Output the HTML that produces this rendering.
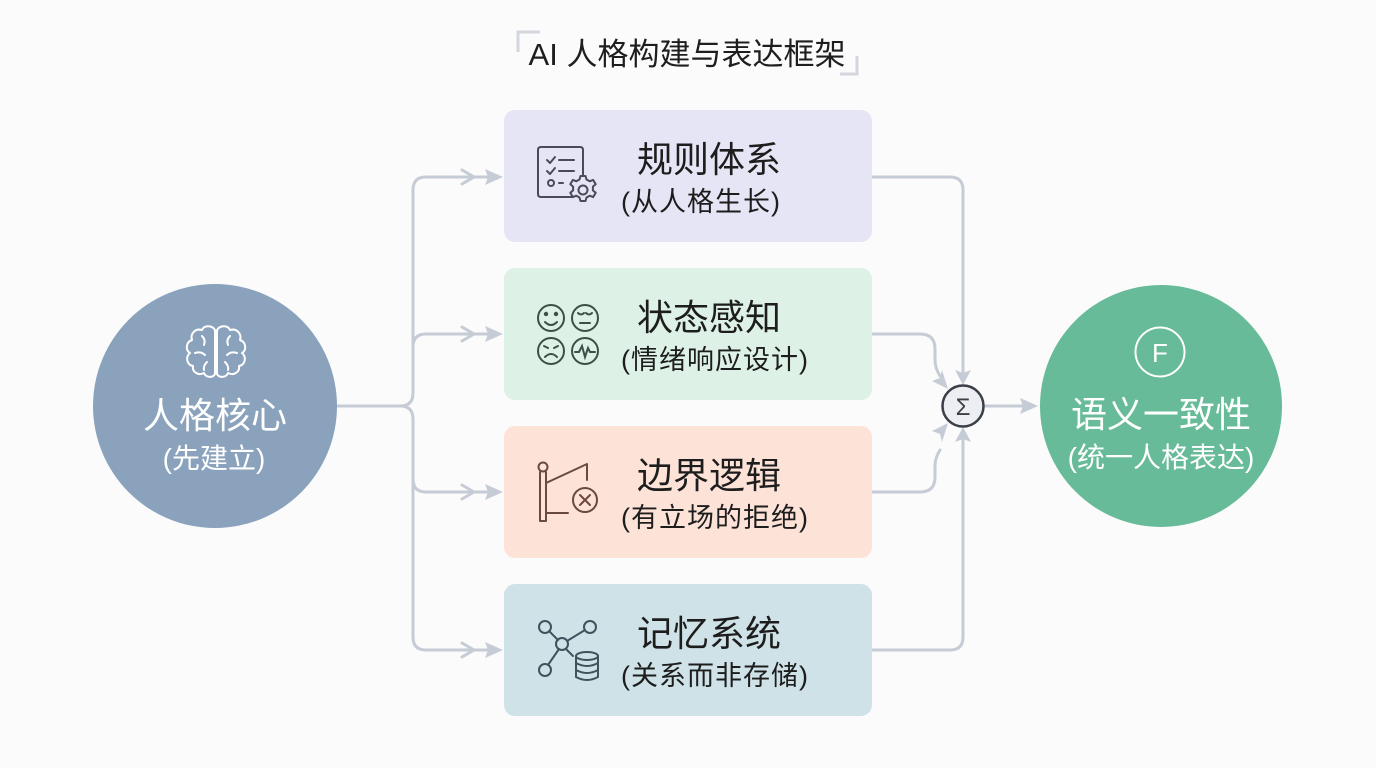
<!DOCTYPE html>
<html><head><meta charset="utf-8"><style>
html,body{margin:0;padding:0;background:#fbfbfc;}
svg{display:block;}
text{font-family:"Liberation Sans","Noto Sans CJK SC",sans-serif;}
</style></head><body>
<svg width="1376" height="768" viewBox="0 0 1376 768" xmlns="http://www.w3.org/2000/svg">
<rect width="1376" height="768" fill="#fbfbfc"/>

<!-- Title -->
<path d="M518,52 V32 H540" fill="none" stroke="#d3d7dd" stroke-width="3"/>
<path d="M857,56 V74 H840" fill="none" stroke="#d3d7dd" stroke-width="3"/>
<text x="687" y="65" text-anchor="middle" font-size="31" fill="#1e1e1e">AI 人格构建与表达框架</text>

<!-- Connectors left -->
<g fill="none" stroke="#c6ccd5" stroke-width="3" stroke-linecap="round">
<path d="M338,406 H400 Q413,406 413,393 V190 Q413,177 426,177 H488"/>
<path d="M400,406 Q413,406 413,419 V637 Q413,650 426,650 H488"/>
<path d="M413,347 Q413,334 426,334 H488"/>
<path d="M413,479 Q413,492 426,492 H488"/>
<path d="M462,170 L474,177 L462,184"/>
<path d="M462,327 L474,334 L462,341"/>
<path d="M462,485 L474,492 L462,499"/>
<path d="M462,643 L474,650 L462,657"/>
</g>
<g fill="#c6ccd5">
<path d="M503,177 L485,169 L488,177 L485,185 Z"/>
<path d="M503,334 L485,326 L488,334 L485,342 Z"/>
<path d="M503,492 L485,484 L488,492 L485,500 Z"/>
<path d="M503,650 L485,642 L488,650 L485,658 Z"/>
</g>

<!-- Connectors right -->
<g fill="none" stroke="#c6ccd5" stroke-width="3" stroke-linecap="round">
<path d="M872,177 H950 Q963,177 963,190 V372"/>
<path d="M872,650 H950 Q963,650 963,637 V440"/>
<path d="M872,334 H920 Q935,334 935,349 V360 Q935,368 940,376"/>
<path d="M872,492 H920 Q935,492 935,477 V466 Q935,458 940,450"/>
<path d="M985,406 H1022"/>
</g>
<g fill="#c6ccd5">
<path d="M963,385 L955,370 L963,373 L971,370 Z"/>
<path d="M963,427 L955,442 L963,439 L971,442 Z"/>
<path d="M948,389 L932,381 L940,378 L942,370 Z"/>
<path d="M948,423 L932,431 L940,434 L942,442 Z"/>
<path d="M1038,406 L1020,398 L1023,406 L1020,414 Z"/>
</g>

<!-- Sigma -->
<circle cx="963" cy="406" r="20.5" fill="#eceef3" stroke="#3b3f47" stroke-width="2.5"/>
<text x="963" y="415" text-anchor="middle" font-size="24" fill="#3b3f47" font-family="DejaVu Sans, sans-serif">Σ</text>

<!-- Boxes -->
<rect x="504" y="110" width="368" height="132" rx="11" fill="#e6e5f5"/>
<rect x="504" y="268" width="368" height="132" rx="11" fill="#ddf1e6"/>
<rect x="504" y="426" width="368" height="132" rx="11" fill="#fde2d8"/>
<rect x="504" y="584" width="368" height="132" rx="11" fill="#cfe2e8"/>

<g fill="#1d1d1d">
<text x="637" y="172" font-size="36">规则体系</text>
<text x="621" y="211" font-size="27" letter-spacing="1">(从人格生长)</text>
<text x="637" y="330" font-size="36">状态感知</text>
<text x="621" y="369" font-size="27" letter-spacing="1">(情绪响应设计)</text>
<text x="637" y="488" font-size="36">边界逻辑</text>
<text x="621" y="527" font-size="27" letter-spacing="1">(有立场的拒绝)</text>
<text x="637" y="646" font-size="36">记忆系统</text>
<text x="621" y="685" font-size="27" letter-spacing="1">(关系而非存储)</text>
</g>

<!-- Icon 1: checklist + gear -->
<g fill="none" stroke="#4a4b57" stroke-width="2" stroke-linecap="round" stroke-linejoin="round">
<path d="M572,197 H541 Q538,197 538,194 V150 Q538,147 541,147 H580 Q583,147 583,150 V176"/>
<path d="M547,160 L550,163 L555,157"/>
<path d="M559,160 H574"/>
<path d="M547,171 L550,174 L555,168"/>
<path d="M559,171 H574"/>
<circle cx="551" cy="183" r="3"/>
<path d="M559,183 H563"/>
<path d="M580.5,176 h5 l1,3.5 l3.2,1.8 l3.4,-1.4 l2.6,4.3 l-2.8,2.4 v3.8 l2.8,2.4 l-2.6,4.3 l-3.4,-1.4 l-3.2,1.8 l-1,3.5 h-5 l-1,-3.5 l-3.2,-1.8 l-3.4,1.4 l-2.6,-4.3 l2.8,-2.4 v-3.8 l-2.8,-2.4 l2.6,-4.3 l3.4,1.4 l3.2,-1.8 z"/>
<circle cx="583" cy="190" r="4.5"/>
</g>

<!-- Icon 2: faces -->
<g fill="none" stroke="#3e4f47" stroke-width="2" stroke-linecap="round">
<circle cx="551" cy="318" r="13"/>
<circle cx="546" cy="314" r="1.2" fill="#3e4f47"/>
<circle cx="556" cy="314" r="1.2" fill="#3e4f47"/>
<path d="M545,322 Q551,328 557,322"/>
<circle cx="585" cy="318" r="13"/>
<path d="M578,313 Q581,316 584,313 M586,313 Q589,316 592,313"/>
<path d="M580,323 H590"/>
<circle cx="551" cy="351" r="13"/>
<path d="M544,346 L548,348 M558,346 L554,348"/>
<path d="M545,357 Q551,351 557,357"/>
<circle cx="585" cy="351" r="13"/>
<path d="M575,352 H579 L582,346 L585,357 L588,348 L590,352 H595"/>
</g>

<!-- Icon 3: boundary -->
<g fill="none" stroke="#6a4a40" stroke-width="2" stroke-linecap="round" stroke-linejoin="round">
<circle cx="543" cy="467" r="4.5"/>
<path d="M540,472 V521 H546 V472"/>
<path d="M546,483 L587,464 V480"/>
<path d="M546,513 H568"/>
<circle cx="585" cy="500" r="12"/>
<path d="M580,495 L590,505 M590,495 L580,505"/>
</g>

<!-- Icon 4: graph + database -->
<g fill="none" stroke="#3f535d" stroke-width="2" stroke-linecap="round">
<circle cx="545" cy="627" r="6"/>
<circle cx="590" cy="627" r="6"/>
<circle cx="562" cy="644" r="6"/>
<circle cx="545" cy="670" r="6"/>
<path d="M549,631 L558,640 M567,641 L585,630 M559,649 L548,665 M566,649 L573,656"/>
<ellipse cx="587" cy="656" rx="11" ry="4"/>
<path d="M576,656 V677 Q587,683 598,677 V656"/>
<path d="M576,663 Q587,669 598,663 M576,670 Q587,676 598,670"/>
</g>

<!-- Left circle -->
<circle cx="215" cy="406" r="122" fill="#8aa2bc"/>
<g fill="none" stroke="#ffffff" stroke-width="2" stroke-linecap="round" stroke-linejoin="round">
<path d="M215,330 C212,325 204,325 202,330 C195,328 190,334 192,340 C186,342 185,350 190,353 C185,357 187,365 193,366 C192,372 198,376 204,373 C206,378 213,378 215,374 Z"/>
<path d="M217,330 C220,325 228,325 230,330 C237,328 242,334 240,340 C246,342 247,350 242,353 C247,357 245,365 239,366 C240,372 234,376 228,373 C226,378 219,378 217,374 Z"/>
<path d="M202,336 Q206,340 204,345 M195,353 Q201,351 205,355 M207,362 Q203,366 204,370"/>
<path d="M230,336 Q226,340 228,345 M237,353 Q231,351 227,355 M225,362 Q229,366 228,370"/>
</g>
<g fill="#ffffff" text-anchor="middle">
<text x="215" y="428" font-size="36">人格核心</text>
<text x="214" y="468" font-size="28">(先建立)</text>
</g>

<!-- Right circle -->
<circle cx="1161" cy="406" r="121" fill="#67bb98"/>
<circle cx="1160" cy="352" r="24.5" fill="none" stroke="#ffffff" stroke-width="2"/>
<text x="1160" y="362" text-anchor="middle" font-size="26" fill="#ffffff">F</text>
<g fill="#ffffff" text-anchor="middle">
<text x="1161" y="427" font-size="36">语义一致性</text>
<text x="1161" y="467" font-size="28">(统一人格表达)</text>
</g>
</svg>
</body></html>
